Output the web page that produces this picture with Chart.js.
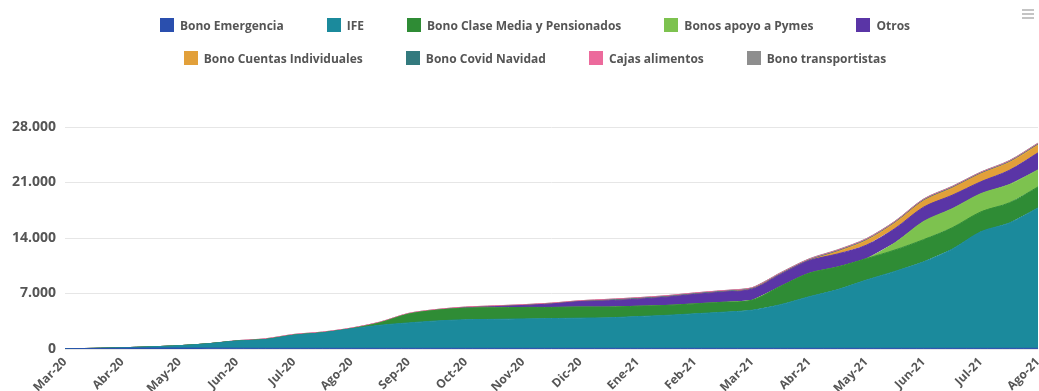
<!DOCTYPE html>
<html lang="es">
<head>
    <meta charset="UTF-8">
    <title>Bonos</title>
    <script src="https://cdn.jsdelivr.net/npm/chart.js"></script>
    <style>
        body { margin: 0; background: #fff; font-family: "Open Sans", sans-serif; }
        #wrap { position: relative; width: 1039px; height: 391px; }
        #legend {
            position: absolute; top: 18px; left: 145px; width: 780px;
            display: flex; flex-wrap: wrap; justify-content: center;
            column-gap: 43px; row-gap: 19px;
            font-size: 12px; font-weight: bold; color: #555;
        }
        .item { display: flex; align-items: center; height: 14px; white-space: nowrap; }
        .box { width: 14px; height: 14px; margin-right: 6px; }
        #menu { position: absolute; top: 9px; left: 1022px; width: 12px; }
        #menu div { height: 2px; background: #c4c4c4; margin-bottom: 2px; }
    </style>
</head>
<body>
    <div id="wrap">
        <canvas id="myChart" width="1039" height="391"></canvas>
        <div id="legend"></div>
        <div id="menu"><div></div><div></div><div></div></div>
    </div>
    <script>
        // meses en el eje x
        const months = ['Mar-20', 'Abr-20', 'May-20', 'Jun-20', 'Jul-20', 'Ago-20', 'Sep-20', 'Oct-20', 'Nov-20',
            'Dic-20', 'Ene-21', 'Feb-21', 'Mar-21', 'Abr-21', 'May-21', 'Jun-21', 'Jul-21', 'Ago-21'];
        // posición de cada dato (en meses desde Mar-20, cada quincena)
        const xs = [0, 0.5, 1, 1.5, 2, 2.5, 3, 3.5, 4, 4.5, 5, 5.5, 6, 6.5, 7, 7.5, 8, 8.5, 9, 9.5,
            10, 10.5, 11, 11.5, 12, 12.5, 13, 13.5, 14, 14.5, 15, 15.5, 16, 16.5, 17];
        const yTicks = [0, 7000, 14000, 21000, 28000];

        const names = ['Bono Emergencia', 'IFE', 'Bono Clase Media y Pensionados', 'Bonos apoyo a Pymes', 'Otros',
            'Bono Cuentas Individuales', 'Bono Covid Navidad', 'Cajas alimentos', 'Bono transportistas'];
        const colors = ['#2a4fae', '#1b8a9c', '#2f8c35', '#7dc24f', '#5a35a6',
            '#e2a03a', '#337a7e', '#ec6a9c', '#8e8e8e'];

        const bonoEmergencia = [30, 60, 100, 120, 120, 110, 100, 90, 90, 90, 90, 90, 90, 90, 90, 90, 90, 90,
            90, 90, 90, 90, 90, 90, 90, 90, 90, 90, 90, 90, 90, 90, 90, 90, 90];
        const ife = [0, 20, 60, 150, 300, 550, 900, 1100, 1650, 1950, 2450, 2900, 3200, 3450, 3600, 3650, 3700, 3750,
            3800, 3850, 4000, 4150, 4350, 4550, 4800, 5500, 6500, 7400, 8600, 9700, 10900, 12500, 14700, 15800, 17700];
        const claseMedia = [0, 0, 0, 0, 0, 0, 0, 0, 0, 0, 0, 300, 1100, 1350, 1450, 1450, 1450, 1400,
            1400, 1350, 1300, 1250, 1250, 1250, 1250, 2300, 2950, 2850, 2700, 2700, 2800, 2700, 2500, 2550, 2650];
        const pymes = [0, 0, 0, 0, 0, 0, 0, 0, 0, 0, 0, 0, 0, 0, 0, 0, 0, 0,
            0, 0, 0, 0, 0, 0, 0, 0, 0, 0, 0, 900, 2300, 2400, 2300, 2300, 2150];
        const otros = [0, 0, 0, 0, 0, 0, 0, 0, 0, 0, 0, 0, 0, 0, 50, 150, 250, 450,
            700, 800, 900, 1050, 1200, 1300, 1400, 1500, 1600, 1650, 1700, 1800, 1800, 1700, 1500, 1800, 2150];
        const cuentasInd = [0, 0, 0, 0, 0, 0, 0, 0, 0, 0, 0, 0, 0, 0, 0, 0, 0, 0,
            0, 0, 0, 0, 0, 0, 0, 0, 0, 300, 600, 700, 800, 900, 1000, 1000, 1000];
        const covidNavidad = [0, 0, 0, 0, 0, 0, 0, 0, 0, 0, 0, 0, 0, 0, 0, 0, 0, 0,
            0, 80, 80, 80, 80, 80, 80, 80, 80, 80, 80, 80, 80, 80, 80, 80, 80];
        const cajasAlimentos = [0, 0, 0, 0, 0, 0, 50, 100, 100, 100, 100, 100, 100, 100, 100, 100, 100, 100,
            100, 100, 100, 100, 100, 100, 100, 100, 100, 100, 100, 100, 100, 100, 100, 100, 100];
        const transportistas = [0, 0, 0, 0, 0, 0, 0, 0, 0, 0, 0, 0, 0, 0, 0, 0, 0, 0,
            0, 0, 0, 0, 0, 0, 0, 50, 50, 50, 50, 50, 50, 50, 50, 50, 50];

        const series = [bonoEmergencia, ife, claseMedia, pymes, otros, cuentasInd, covidNavidad, cajasAlimentos, transportistas];

        // leyenda html (dos filas como en el original)
        const legend = document.getElementById('legend');
        names.forEach(function (n, i) {
            const it = document.createElement('div');
            it.className = 'item';
            it.innerHTML = '<span class="box" style="background:' + colors[i] + '"></span>' + n;
            legend.appendChild(it);
        });

        const myChart = new Chart(document.getElementById('myChart'), {
            type: 'line',
            data: {
                datasets: series.map(function (s, i) {
                    return {
                        label: names[i],
                        data: s.map(function (v, j) { return { x: xs[j], y: v }; }),
                        backgroundColor: colors[i],
                        borderColor: colors[i],
                        borderWidth: 1,
                        pointRadius: 0,
                        tension: 0.3,
                        fill: 'stack'
                    };
                })
            },
            options: {
                responsive: false,
                animation: false,
                layout: { padding: { top: 127, right: 1, left: 0, bottom: 0 } },
                plugins: { legend: { display: false }, tooltip: { enabled: false } },
                scales: {
                    x: {
                        type: 'linear',
                        min: 0,
                        max: 17,
                        grid: { display: false, drawTicks: false },
                        border: { display: false },
                        afterFit: function (axis) {
                            axis.height = 42;
                            axis.paddingLeft = 0;
                            axis.paddingRight = 0;
                        },
                        ticks: {
                            stepSize: 1,
                            autoSkip: false,
                            minRotation: 45,
                            maxRotation: 45,
                            color: '#555',
                            font: { family: 'Open Sans', size: 12, weight: 'bold' },
                            padding: 6,
                            callback: function (v) { return months[v]; }
                        }
                    },
                    y: {
                        stacked: true,
                        min: yTicks[0],
                        max: yTicks[yTicks.length - 1],
                        grid: { color: '#e6e6e6', drawTicks: false },
                        border: { display: false },
                        afterBuildTicks: function (axis) {
                            axis.ticks = yTicks.map(function (v) { return { value: v }; });
                        },
                        afterFit: function (axis) {
                            axis.width = 65;
                            axis.paddingTop = 0;
                        },
                        ticks: {
                            color: '#555',
                            font: { family: 'Open Sans', size: 14, weight: 'bold' },
                            padding: 9,
                            callback: function (v) { return v.toString().replace(/\B(?=(\d{3})+(?!\d))/g, '.'); }
                        }
                    }
                }
            }
        });
    </script>
</body>
</html>
